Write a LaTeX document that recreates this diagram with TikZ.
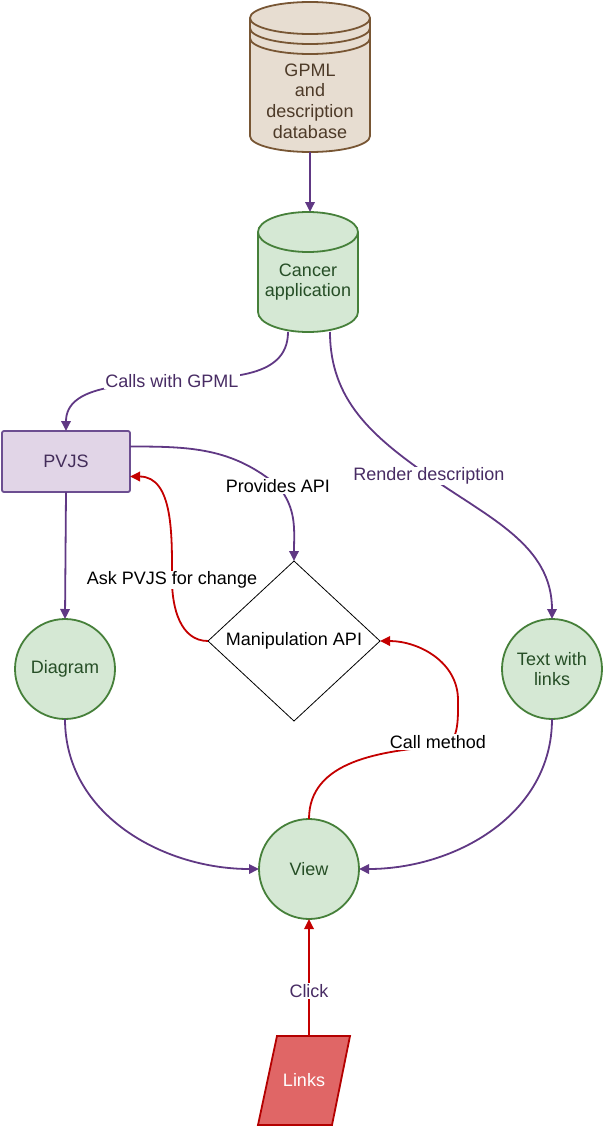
\documentclass[tikz,border=0pt]{standalone}
\usepackage{fontspec}
\setmainfont{Liberation Sans}
\usetikzlibrary{arrows.meta,shapes.geometric}
\definecolor{gpmlfill}{RGB}{231,221,209}
\definecolor{gpmldraw}{RGB}{120,86,52}
\definecolor{gpmltext}{RGB}{77,58,40}
\definecolor{grfill}{RGB}{213,232,212}
\definecolor{grdraw}{RGB}{70,128,58}
\definecolor{grtext}{RGB}{38,78,38}
\definecolor{pvfill}{RGB}{225,213,231}
\definecolor{pvdraw}{RGB}{108,78,145}
\definecolor{pvtext}{RGB}{67,45,90}
\definecolor{purp}{RGB}{96,56,132}
\definecolor{purptext}{RGB}{72,44,100}
\definecolor{redl}{RGB}{196,0,0}
\definecolor{linkfill}{RGB}{224,102,102}
\definecolor{linkdraw}{RGB}{180,0,0}
\tikzset{
  txt/.style={font=\fontsize{18pt}{20.7pt}\selectfont, align=center},
  anchorbox/.style={rectangle, inner sep=0pt, outer sep=0pt},
  greencirc/.style={circle, draw=grdraw, fill=grfill, line width=1.8pt, minimum size=100pt, inner sep=0pt, outer sep=0pt, txt, text=grtext},
  purpedge/.style={draw=purp, line width=1.8pt, -{Triangle[length=10pt,width=9.5pt]}},
  rededge/.style={draw=redl, line width=1.8pt, -{Triangle[length=10pt,width=9.5pt]}},
  lbl/.style={fill=white, inner sep=1pt, txt},
}
\begin{document}
\begin{tikzpicture}[x=1pt,y=-1pt]
\useasboundingbox (0,0) rectangle (603,1127);
% GPML database
\filldraw[fill=gpmlfill, draw=gpmldraw, line width=1.8pt]
  (250,18) -- (250,136) arc (180:360:60pt and 16pt) -- (370,18) arc (0:180:60pt and 16pt) -- cycle;
\draw[gpmldraw, line width=1.8pt] (250,18) arc (180:360:60pt and 16pt);
\draw[gpmldraw, line width=1.8pt] (250,28) arc (180:360:60pt and 16pt);
\draw[gpmldraw, line width=1.8pt] (250,38) arc (180:360:60pt and 16pt);
\node[anchorbox, minimum width=120pt, minimum height=150pt] (gpml) at (310,77) {};
\node[txt, text=gpmltext] (gpmlt) at (310,101) {GPML\\and\\description\\database};
% Cancer application
\filldraw[fill=grfill, draw=grdraw, line width=1.8pt]
  (258,232) -- (258,312) arc (180:360:50pt and 20pt) -- (358,232) arc (0:180:50pt and 20pt) -- cycle;
\draw[grdraw, line width=1.8pt] (258,232) arc (180:360:50pt and 20pt);
\node[anchorbox, minimum width=100pt, minimum height=120pt] (cancer) at (308,272) {};
\node[txt, text=grtext] (cancert) at (308,282) {Cancer\\application};
% PVJS
\node[rectangle, draw=pvdraw, fill=pvfill, line width=1.8pt, rounded corners=2pt, minimum width=128pt, minimum height=61pt, outer sep=0pt, txt, text=pvtext] (pvjs) at (66,461.5) {PVJS};
% circles
\node[greencirc] (diag) at (65,669) {Diagram};
\node[greencirc] (twl) at (552,669) {Text with\\links};
\node[greencirc] (view) at (309,869) {View};
% diamond
\node[diamond, draw=black, line width=0.8pt, minimum width=172pt, minimum height=160pt, inner sep=0pt, outer sep=0pt, txt] (api) at (294,641) {Manipulation API};
% Links parallelogram
\filldraw[fill=linkfill, draw=linkdraw, line width=1.8pt] (277,1036) -- (350,1036) -- (332,1125) -- (258,1125) -- cycle;
\node[anchorbox, minimum width=92pt, minimum height=89pt, txt, text=white] (links) at (304,1080.5) {Links};
% coordinates for labels
\coordinate (c1) at (172,381);
\coordinate (c2) at (429,476);
\coordinate (c3) at (278,486);
\coordinate (c4) at (172,580);
\coordinate (c5) at (440,746);
\coordinate (c5b) at (458,700);
% edges
\draw[purpedge] (gpml.south) -- (310,212);
\draw[purpedge] ([xshift=-20pt]cancer.south) to[out=-90,in=5] (c1) to[out=185,in=90] (pvjs.north);
\draw[purpedge] ([xshift=22pt]cancer.south) to[out=-90,in=145] (c2) to[out=-35,in=90] (twl.north);
\draw[purpedge] ([yshift=15pt]pvjs.east) to[out=0,in=140] (c3) to[out=-50,in=90] (api.north);
\draw[rededge] (api.west) to[out=180,in=-90] (c4) to[out=90,in=0] ([yshift=-15pt]pvjs.east);
\draw[purpedge] (pvjs.south) -- (diag.north);
\draw[purpedge] (diag.south) to[out=-90,in=180] (view.west);
\draw[purpedge] (twl.south) to[out=-90,in=0] (view.east);
\draw[rededge] (view.north) to[out=90,in=185] (c5) to[out=0,in=-90] (c5b) to[out=90,in=0] (api.east);
\draw[rededge] ([xshift=5pt]links.north) -- (view.south);
% labels
\node[lbl, text=purptext] (l1) at (c1) {Calls with GPML};
\node[lbl, text=purptext] (l2) at (c2) {Render description};
\node[lbl] (l3) at (c3) {Provides API};
\node[lbl] (l4) at (c4) {Ask PVJS for change};
\node[lbl] (l5) at (438,742) {Call method};
\node[lbl, text=purptext] (l6) at (309,991) {Click};
\end{tikzpicture}
\end{document}
